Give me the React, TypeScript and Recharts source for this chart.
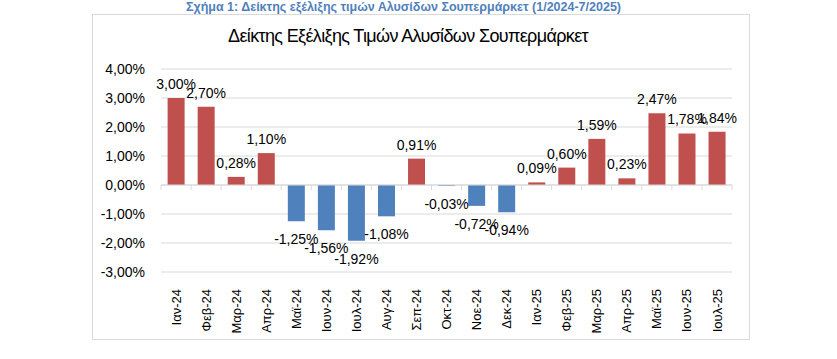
import React from 'react';
import { BarChart, Bar, XAxis, YAxis, CartesianGrid, ReferenceLine, Cell, LabelList } from 'recharts';

const categories = ['Ιαν-24','Φεβ-24','Μαρ-24','Απρ-24','Μαϊ-24','Ιουν-24','Ιουλ-24','Αυγ-24','Σεπ-24','Οκτ-24','Νοε-24','Δεκ-24','Ιαν-25','Φεβ-25','Μαρ-25','Απρ-25','Μαϊ-25','Ιουν-25','Ιουλ-25'];
const values = [3.00, 2.70, 0.28, 1.10, -1.25, -1.56, -1.92, -1.08, 0.91, -0.03, -0.72, -0.94, 0.09, 0.60, 1.59, 0.23, 2.47, 1.78, 1.84];
const yTicks = [-3, -2, -1, 0, 1, 2, 3, 4];
const figureCaption = 'Σχήμα 1: Δείκτης εξέλιξης τιμών Αλυσίδων Σουπερμάρκετ (1/2024-7/2025)';
const chartTitle = 'Δείκτης Εξέλιξης Τιμών Αλυσίδων Σουπερμάρκετ';

const data = categories.map((c, i) => ({ name: c, value: values[i] }));

const FONT = '"Liberation Sans", Arial, sans-serif';
const RED = '#C0504D';
const BLUE = '#4F81BD';

const fmt = (v: number) => v.toFixed(2).replace('.', ',') + '%';

const XTick = (props: any) => {
  const { x, y, payload } = props;
  return (
    <text x={x} y={y} transform={`rotate(-90, ${x}, ${y})`} textAnchor="end" dy="0.35em"
      fontFamily={FONT} fontSize={13} fill="#000">{payload.value}</text>
  );
};

const ValueLabel = (props: any) => {
  const { x, y, width, height, value } = props;
  const cx = x + width / 2;
  const top = Math.min(y, y + height);
  const bottom = Math.max(y, y + height);
  if (value >= 0) {
    return <text x={cx} y={top - 9} textAnchor="middle" fontFamily={FONT} fontSize={14} fill="#000">{fmt(value)}</text>;
  }
  return <text x={cx} y={bottom + 23} textAnchor="middle" fontFamily={FONT} fontSize={14} fill="#000">{fmt(value)}</text>;
};

const ZeroAxis = (props: any) => {
  const { x1, y1, x2, y2 } = props;
  const n = categories.length;
  const step = (x2 - x1) / n;
  const ticks = [];
  for (let i = 0; i <= n; i++) {
    const tx = x1 + i * step;
    ticks.push(<line key={i} x1={tx} x2={tx} y1={y1} y2={y1 + 5} stroke="#d9d9d9" strokeWidth={1} />);
  }
  return (
    <g>
      <line x1={x1} y1={y1} x2={x2} y2={y2} stroke="#d9d9d9" strokeWidth={1} />
      {ticks}
    </g>
  );
};

export default function App() {
  return (
    <div style={{ position: 'absolute', left: 0, top: 0, width: 837, height: 359, background: '#fff', overflow: 'hidden' }}>
      <div style={{ position: 'absolute', left: 92, top: 14, width: 658, height: 326, border: '1px solid #d9d9d9', boxSizing: 'border-box' }} />
      <div style={{ position: 'absolute', left: 0, width: 837, top: 0, lineHeight: '14px', textAlign: 'center', fontFamily: FONT, fontWeight: 'bold', fontSize: 12.5, color: '#4F81BD' }}>
        <span style={{ position: 'relative', left: -15 }}>{figureCaption}</span>
      </div>
      <div style={{ position: 'absolute', left: 92, width: 658, top: 26, textAlign: 'center', fontFamily: FONT, fontSize: 18, color: '#000', letterSpacing: -0.65 }}>
        <span style={{ position: 'relative', left: -13 }}>{chartTitle}</span>
      </div>
      <div style={{ position: 'absolute', left: 0, top: 0 }}>
        <BarChart width={837} height={359} data={data}
          margin={{ top: 69, right: 105, bottom: 17, left: 101 }} barCategoryGap="22%">
          <CartesianGrid vertical={false} stroke="#d9d9d9" strokeWidth={1} />
          <XAxis dataKey="name" axisLine={false} tickLine={false} interval={0} height={70} tick={<XTick />} tickMargin={11} />
          <YAxis domain={[-3, 4]} ticks={yTicks} width={60} axisLine={false} tickLine={false} tickMargin={10}
            tickFormatter={fmt} tick={{ fontFamily: FONT, fontSize: 14, fill: '#000' }} />
          <ReferenceLine y={0} shape={<ZeroAxis />} />
          <Bar dataKey="value" isAnimationActive={false}>
            {data.map((d, i) => <Cell key={i} fill={d.value >= 0 ? RED : BLUE} />)}
            <LabelList dataKey="value" content={<ValueLabel />} />
          </Bar>
        </BarChart>
      </div>
    </div>
  );
}
